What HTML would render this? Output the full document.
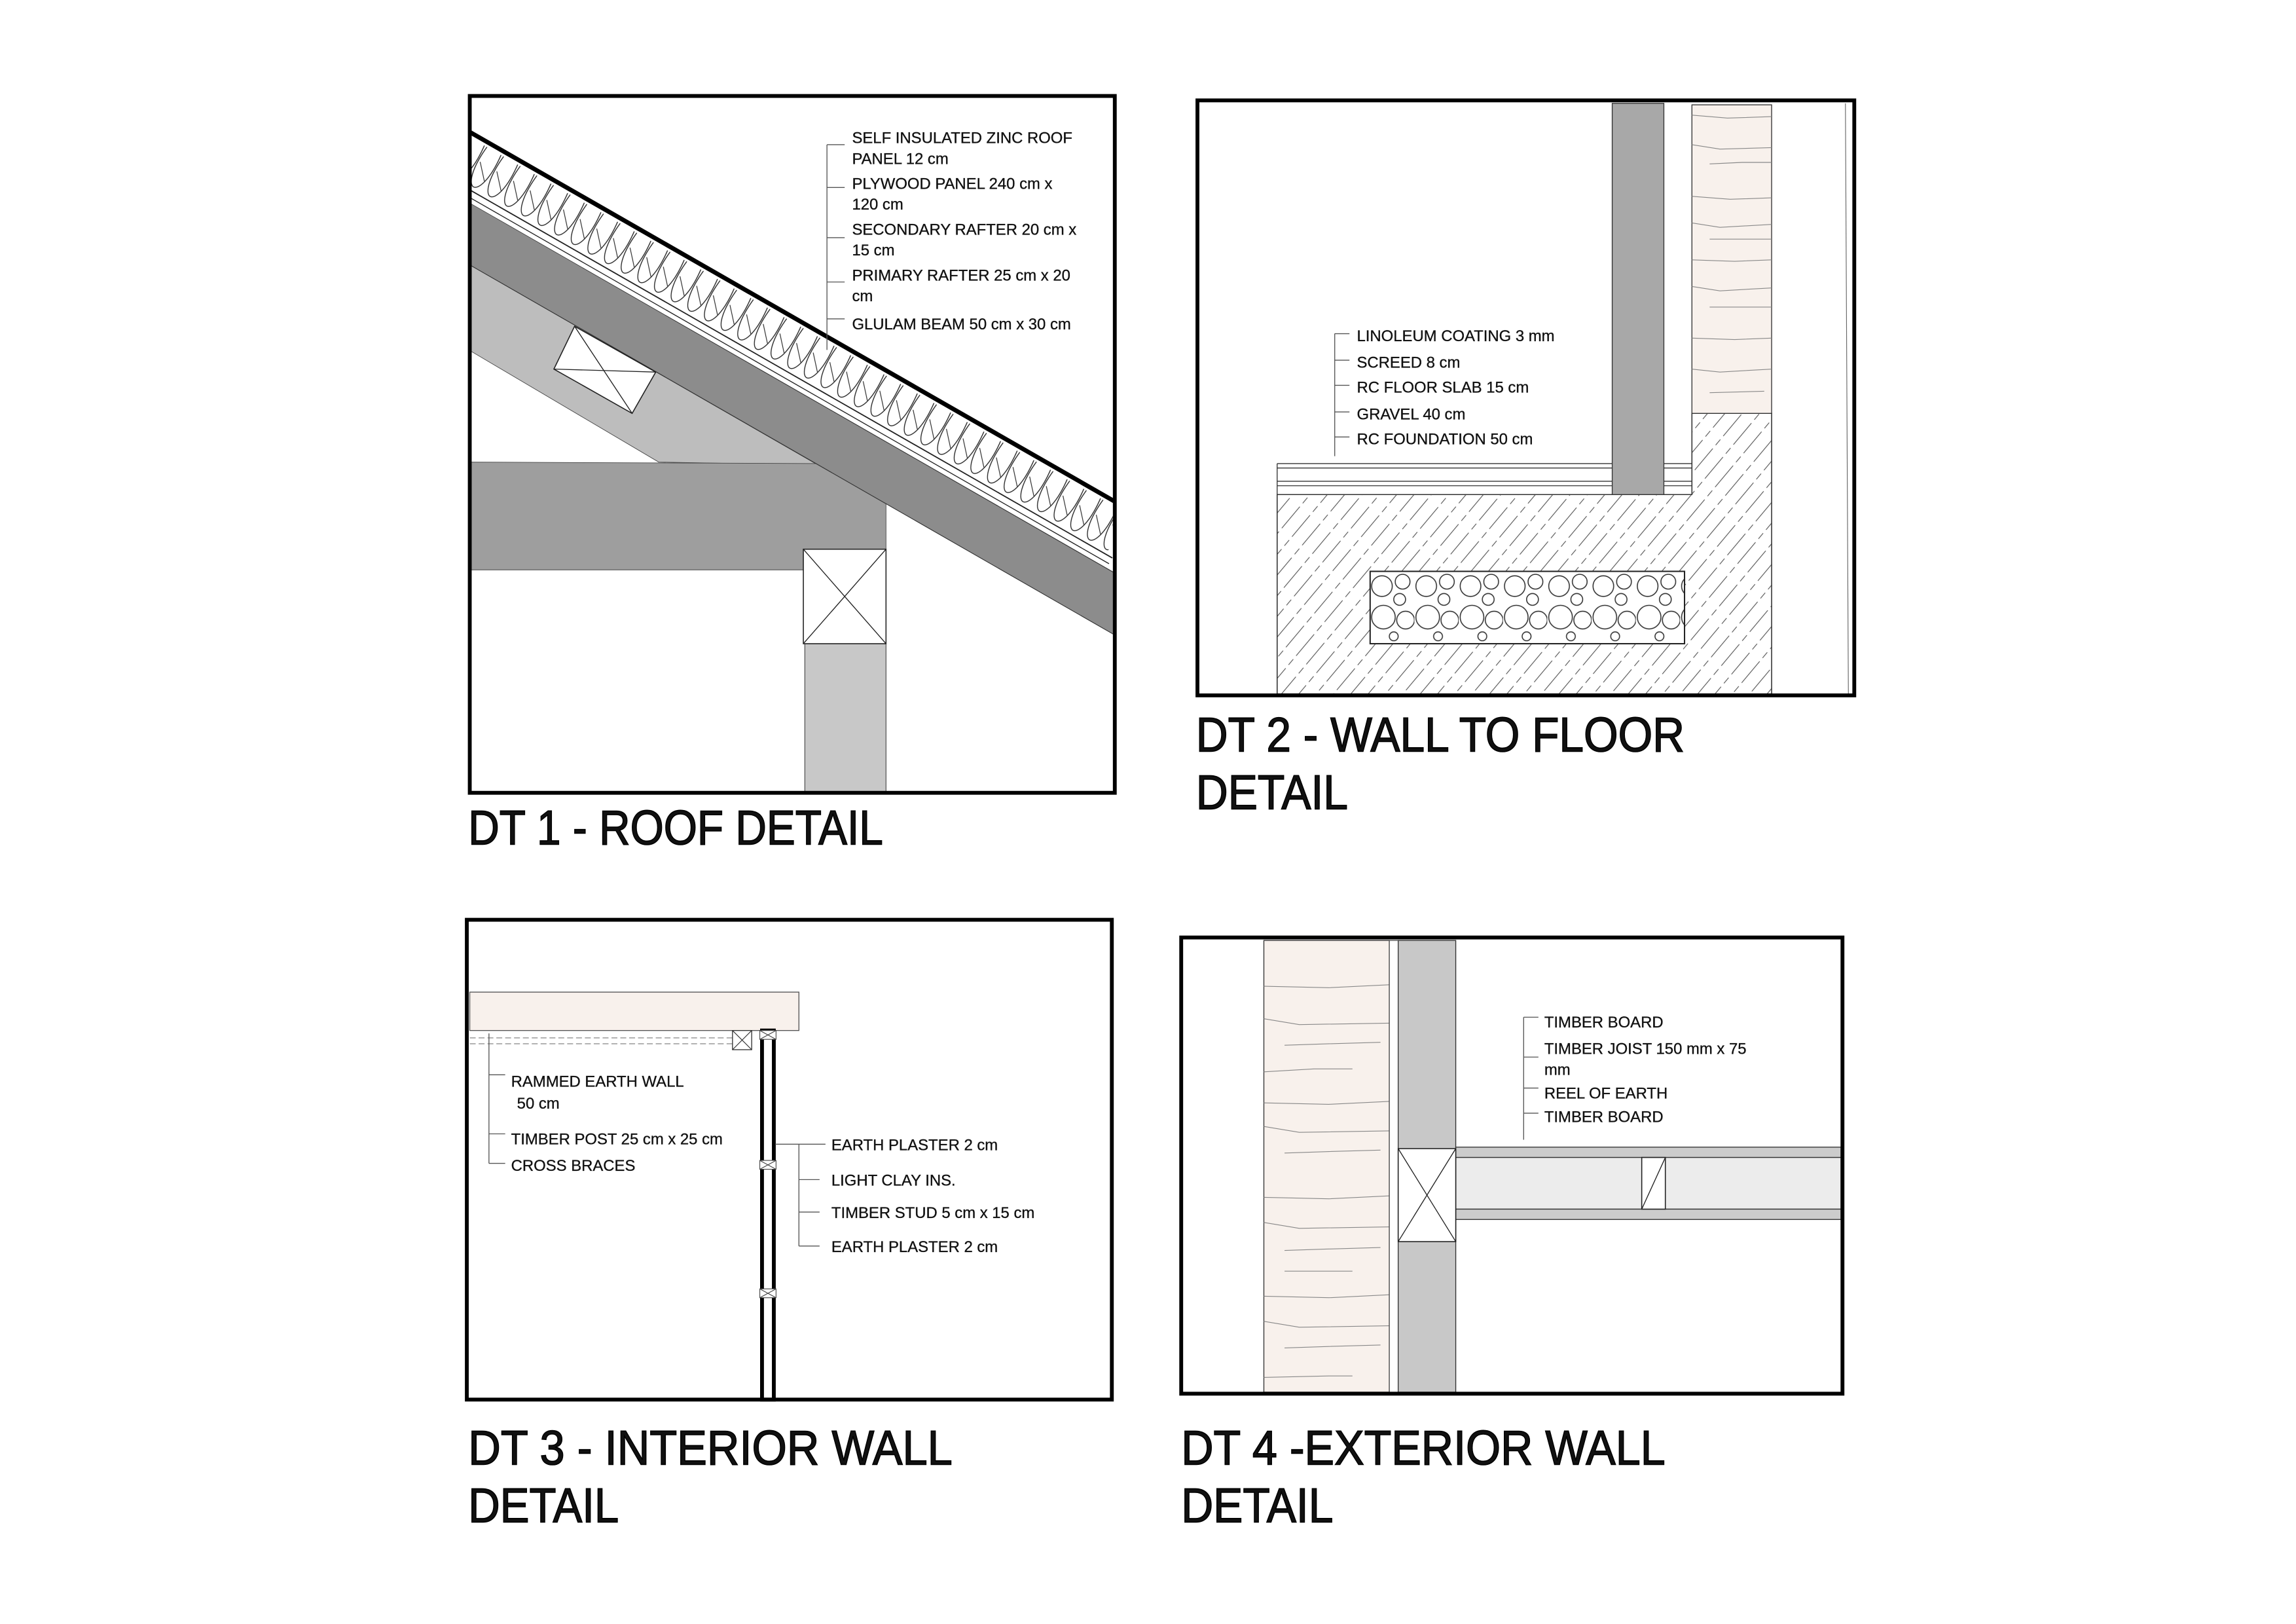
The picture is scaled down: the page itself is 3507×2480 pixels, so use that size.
<!DOCTYPE html>
<html><head><meta charset="utf-8"><style>
html,body{margin:0;padding:0;background:#fff;}
svg{display:block;}
text{font-family:"Liberation Sans",sans-serif;fill:#111;}
.lb{font-size:10.6px;stroke:#111;stroke-width:0.15;}
.tt{font-size:33px;stroke:#000;stroke-width:0.7;}
</style></head><body>
<svg width="3507" height="2480" viewBox="0 0 1555 1100" xmlns="http://www.w3.org/2000/svg">
<defs>
<pattern id="ins" width="13" height="34" patternUnits="userSpaceOnUse">
<path d="M1,3 C-1,22 3,31 6.5,31 C10,31 14,22 12,3" fill="none" stroke="#222" stroke-width="0.6"/>
<path d="M2,14 L11,24" stroke="#222" stroke-width="0.5"/>
</pattern>
<pattern id="hatch" width="9" height="30" patternUnits="userSpaceOnUse" patternTransform="rotate(40)">
<line x1="4" y1="0" x2="4" y2="30" stroke="#555" stroke-width="0.5" stroke-dasharray="16 3 5 3"/>
</pattern>
<pattern id="grav" width="30" height="48" patternUnits="userSpaceOnUse" x="928" y="387">
<g fill="#fff" stroke="#333" stroke-width="0.7">
<circle cx="8" cy="10" r="7"/><circle cx="22" cy="7" r="5"/><circle cx="20" cy="19" r="4"/>
<circle cx="9" cy="31" r="8"/><circle cx="24" cy="33" r="6"/><circle cx="16" cy="44" r="3"/>
</g></pattern>
<clipPath id="c1"><rect x="319" y="66" width="435" height="470"/></clipPath>
</defs>

<!-- ============ DT1 ============ -->
<g clip-path="url(#c1)">
<polygon points="319,180 554,315 446,313 319,238" fill="#bdbdbd" stroke="#444" stroke-width="0.4"/>
<polygon points="319,313 554,314 600,341 600,386 319,386" fill="#9e9e9e" stroke="#444" stroke-width="0.4"/>
<polygon points="319,138 760,391 760,433 319,180" fill="#8c8c8c" stroke="#333" stroke-width="0.5"/>
<g transform="translate(319,90) rotate(29.8)">
<rect x="-5" y="0" width="520" height="34" fill="#fff"/>
<rect x="-5" y="0" width="520" height="34" fill="url(#ins)"/>
<rect x="-5" y="34" width="520" height="7.6" fill="#fff"/>
<line x1="-5" y1="34" x2="520" y2="34" stroke="#222" stroke-width="0.8"/>
<line x1="-5" y1="38.5" x2="520" y2="38.5" stroke="#222" stroke-width="0.6"/>
<line x1="-5" y1="0" x2="520" y2="0" stroke="#000" stroke-width="3"/>
</g>
<polygon points="375,250 389,221 444,252 428,280" fill="#fff" stroke="#222" stroke-width="0.7"/>
<line x1="375" y1="250" x2="444" y2="252" stroke="#222" stroke-width="0.6"/>
<line x1="389" y1="221" x2="428" y2="280" stroke="#222" stroke-width="0.6"/>
<rect x="545" y="436" width="55" height="102" fill="#c8c8c8" stroke="#444" stroke-width="0.5"/>
<rect x="544" y="372" width="56" height="64" fill="#fff" stroke="#222" stroke-width="0.7"/>
<line x1="544" y1="372" x2="600" y2="436" stroke="#222" stroke-width="0.6"/>
<line x1="600" y1="372" x2="544" y2="436" stroke="#222" stroke-width="0.6"/>
</g>
<rect x="318" y="65" width="437" height="472" fill="none" stroke="#000" stroke-width="2.6"/>
<g stroke="#555" stroke-width="0.6" fill="none">
<line x1="560" y1="98" x2="560" y2="237"/>
<line x1="560" y1="98" x2="572" y2="98"/><line x1="560" y1="127" x2="572" y2="127"/>
<line x1="560" y1="161" x2="572" y2="161"/><line x1="560" y1="191" x2="572" y2="191"/>
<line x1="560" y1="216" x2="572" y2="216"/>
</g>
<text class="lb" x="577" y="97">SELF INSULATED ZINC ROOF</text>
<text class="lb" x="577" y="111">PANEL  12 cm</text>
<text class="lb" x="577" y="128">PLYWOOD  PANEL 240 cm x</text>
<text class="lb" x="577" y="142">120 cm</text>
<text class="lb" x="577" y="159">SECONDARY RAFTER 20 cm x</text>
<text class="lb" x="577" y="173">15 cm</text>
<text class="lb" x="577" y="190">PRIMARY RAFTER 25 cm x 20</text>
<text class="lb" x="577" y="204">cm</text>
<text class="lb" x="577" y="223">GLULAM BEAM 50 cm x 30 cm</text>
<text class="tt" x="317" y="572" textLength="281" lengthAdjust="spacingAndGlyphs">DT 1 - ROOF DETAIL</text>

<!-- ============ DT2 ============ -->
<path d="M865,335 L1146,335 L1146,280 L1200,280 L1200,470 L865,470 Z" fill="#fff"/>
<path d="M865,335 L1146,335 L1146,280 L1200,280 L1200,470 L865,470 Z" fill="url(#hatch)" stroke="#333" stroke-width="0.7"/>
<rect x="928" y="387" width="213" height="49" fill="#fff"/>
<rect x="928" y="387" width="213" height="49" fill="url(#grav)" stroke="#222" stroke-width="0.9"/>
<rect x="1146" y="71" width="54" height="209" fill="#f8f1ec" stroke="#333" stroke-width="0.6"/>
<g stroke="#888" stroke-width="0.5" fill="none">
<path d="M1146,78 L1170,80 L1200,79"/><path d="M1146,98 L1165,101 L1200,100"/>
<path d="M1158,111 L1180,110 L1200,110"/><path d="M1146,133 L1172,135 L1200,134"/>
<path d="M1146,151 L1165,154 L1200,152"/><path d="M1158,162 L1200,162"/>
<path d="M1146,176 L1175,177 L1200,176"/><path d="M1146,194 L1165,197 L1200,195"/>
<path d="M1158,208 L1200,208"/><path d="M1146,229 L1175,230 L1200,229"/>
<path d="M1146,250 L1165,252 L1200,250"/><path d="M1158,266 L1195,265"/>
</g>
<rect x="1092" y="70" width="35" height="265" fill="#a8a8a8" stroke="#333" stroke-width="0.6"/>
<g stroke="#333" stroke-width="0.6">
<line x1="865" y1="314" x2="1092" y2="314"/><line x1="865" y1="317" x2="1092" y2="317"/>
<line x1="865" y1="326" x2="1092" y2="326"/><line x1="865" y1="329" x2="1092" y2="329"/>
<line x1="1127" y1="314" x2="1146" y2="314"/><line x1="1127" y1="317" x2="1146" y2="317"/>
<line x1="1127" y1="326" x2="1146" y2="326"/><line x1="1127" y1="329" x2="1146" y2="329"/>
<line x1="865" y1="314" x2="865" y2="335"/>
</g>
<line x1="1250" y1="70" x2="1252" y2="470" stroke="#666" stroke-width="0.5"/>
<rect x="811" y="68" width="445" height="403" fill="none" stroke="#000" stroke-width="2.6"/>
<g stroke="#555" stroke-width="0.6">
<line x1="904" y1="226" x2="904" y2="309"/>
<line x1="904" y1="226" x2="914" y2="226"/><line x1="904" y1="244" x2="914" y2="244"/>
<line x1="904" y1="261" x2="914" y2="261"/><line x1="904" y1="279" x2="914" y2="279"/>
<line x1="904" y1="296" x2="914" y2="296"/>
</g>
<text class="lb" x="919" y="231">LINOLEUM COATING 3 mm</text>
<text class="lb" x="919" y="249">SCREED 8 cm</text>
<text class="lb" x="919" y="266">RC FLOOR SLAB 15 cm</text>
<text class="lb" x="919" y="284">GRAVEL 40 cm</text>
<text class="lb" x="919" y="301">RC FOUNDATION 50 cm</text>
<text class="tt" x="810" y="509" textLength="331" lengthAdjust="spacingAndGlyphs">DT 2 - WALL TO FLOOR</text>
<text class="tt" x="810" y="548" textLength="103" lengthAdjust="spacingAndGlyphs">DETAIL</text>

<!-- ============ DT3 ============ -->
<rect x="318" y="672" width="223" height="26" fill="#f8f1ec" stroke="#555" stroke-width="0.6"/>
<g stroke="#777" stroke-width="0.5" stroke-dasharray="4 2">
<line x1="318" y1="703" x2="496" y2="703"/><line x1="318" y1="707" x2="496" y2="707"/>
</g>
<rect x="496" y="698" width="13" height="13" fill="#fff" stroke="#333" stroke-width="0.6"/>
<line x1="496" y1="698" x2="509" y2="711" stroke="#333" stroke-width="0.5"/>
<line x1="509" y1="698" x2="496" y2="711" stroke="#333" stroke-width="0.5"/>
<rect x="516" y="698" width="8" height="250" fill="#fff" stroke="#000" stroke-width="2.6"/>
<g stroke="#444" stroke-width="0.5" fill="#fff">
<rect x="514.5" y="698" width="11" height="6"/><rect x="514.5" y="786" width="11" height="6"/><rect x="514.5" y="873" width="11" height="6"/>
<path d="M514.5,698 L525.5,704 M525.5,698 L514.5,704 M514.5,786 L525.5,792 M525.5,786 L514.5,792 M514.5,873 L525.5,879 M525.5,873 L514.5,879"/>
</g>
<rect x="316" y="623" width="437" height="325" fill="none" stroke="#000" stroke-width="2.6"/>
<g stroke="#555" stroke-width="0.6">
<line x1="331" y1="700" x2="331" y2="788"/>
<line x1="331" y1="728" x2="342" y2="728"/><line x1="331" y1="768" x2="342" y2="768"/><line x1="331" y1="788" x2="342" y2="788"/>
<line x1="525" y1="775" x2="559" y2="775"/><line x1="541" y1="775" x2="541" y2="844"/>
<line x1="541" y1="799" x2="555" y2="799"/><line x1="541" y1="821" x2="555" y2="821"/><line x1="541" y1="844" x2="555" y2="844"/>
</g>
<text class="lb" x="346" y="736">RAMMED EARTH WALL</text>
<text class="lb" x="350" y="751">50 cm</text>
<text class="lb" x="346" y="775">TIMBER POST 25 cm x 25 cm</text>
<text class="lb" x="346" y="793">CROSS BRACES</text>
<text class="lb" x="563" y="779">EARTH PLASTER 2 cm</text>
<text class="lb" x="563" y="803">LIGHT CLAY INS.</text>
<text class="lb" x="563" y="825">TIMBER STUD 5 cm x 15 cm</text>
<text class="lb" x="563" y="848">EARTH PLASTER 2 cm</text>
<text class="tt" x="317" y="992" textLength="328" lengthAdjust="spacingAndGlyphs">DT 3 - INTERIOR WALL</text>
<text class="tt" x="317" y="1031" textLength="102" lengthAdjust="spacingAndGlyphs">DETAIL</text>

<!-- ============ DT4 ============ -->
<rect x="856" y="637" width="85" height="306" fill="#f8f1ec" stroke="#333" stroke-width="0.6"/>
<g stroke="#888" stroke-width="0.5" fill="none">
<path d="M856,668 L900,669 L941,667"/><path d="M856,690 L880,694 L941,693"/><path d="M870,708 L900,707 L935,706"/>
<path d="M856,726 L890,724 L916,724"/><path d="M856,747 L900,748 L941,746"/><path d="M856,763 L880,767 L941,766"/>
<path d="M870,781 L900,780 L935,779"/><path d="M856,811 L900,812 L941,810"/><path d="M856,828 L880,832 L941,831"/>
<path d="M870,847 L900,846 L935,845"/><path d="M870,861 L916,861"/><path d="M856,878 L900,879 L941,877"/>
<path d="M856,895 L880,899 L941,898"/><path d="M870,913 L900,912 L935,911"/><path d="M856,933 L900,932 L916,932"/>
</g>
<rect x="941" y="637" width="6" height="306" fill="#fff" stroke="#333" stroke-width="0.5"/>
<rect x="947" y="637" width="39" height="306" fill="#c8c8c8" stroke="#333" stroke-width="0.6"/>
<rect x="986" y="777" width="261" height="7" fill="#ccc" stroke="#333" stroke-width="0.6"/>
<rect x="986" y="784" width="261" height="35" fill="#ececec" stroke="#333" stroke-width="0.6"/>
<rect x="986" y="819" width="261" height="7" fill="#ccc" stroke="#333" stroke-width="0.6"/>
<rect x="1112" y="784" width="16" height="35" fill="#fff" stroke="#222" stroke-width="0.7"/>
<line x1="1112" y1="819" x2="1128" y2="784" stroke="#222" stroke-width="0.6"/>
<rect x="947" y="778" width="39" height="63" fill="#fff" stroke="#222" stroke-width="0.7"/>
<line x1="947" y1="778" x2="986" y2="841" stroke="#222" stroke-width="0.6"/>
<line x1="986" y1="778" x2="947" y2="841" stroke="#222" stroke-width="0.6"/>
<rect x="800" y="635" width="448" height="309" fill="none" stroke="#000" stroke-width="2.6"/>
<g stroke="#555" stroke-width="0.6">
<line x1="1032" y1="689" x2="1032" y2="772"/>
<line x1="1032" y1="689" x2="1042" y2="689"/><line x1="1032" y1="716" x2="1042" y2="716"/>
<line x1="1032" y1="737" x2="1042" y2="737"/><line x1="1032" y1="754" x2="1042" y2="754"/>
</g>
<text class="lb" x="1046" y="696">TIMBER BOARD</text>
<text class="lb" x="1046" y="714">TIMBER JOIST 150 mm x 75</text>
<text class="lb" x="1046" y="728">mm</text>
<text class="lb" x="1046" y="744">REEL OF EARTH</text>
<text class="lb" x="1046" y="760">TIMBER BOARD</text>
<text class="tt" x="800" y="992" textLength="328" lengthAdjust="spacingAndGlyphs">DT 4 -EXTERIOR WALL</text>
<text class="tt" x="800" y="1031" textLength="103" lengthAdjust="spacingAndGlyphs">DETAIL</text>
</svg>
</body></html>
